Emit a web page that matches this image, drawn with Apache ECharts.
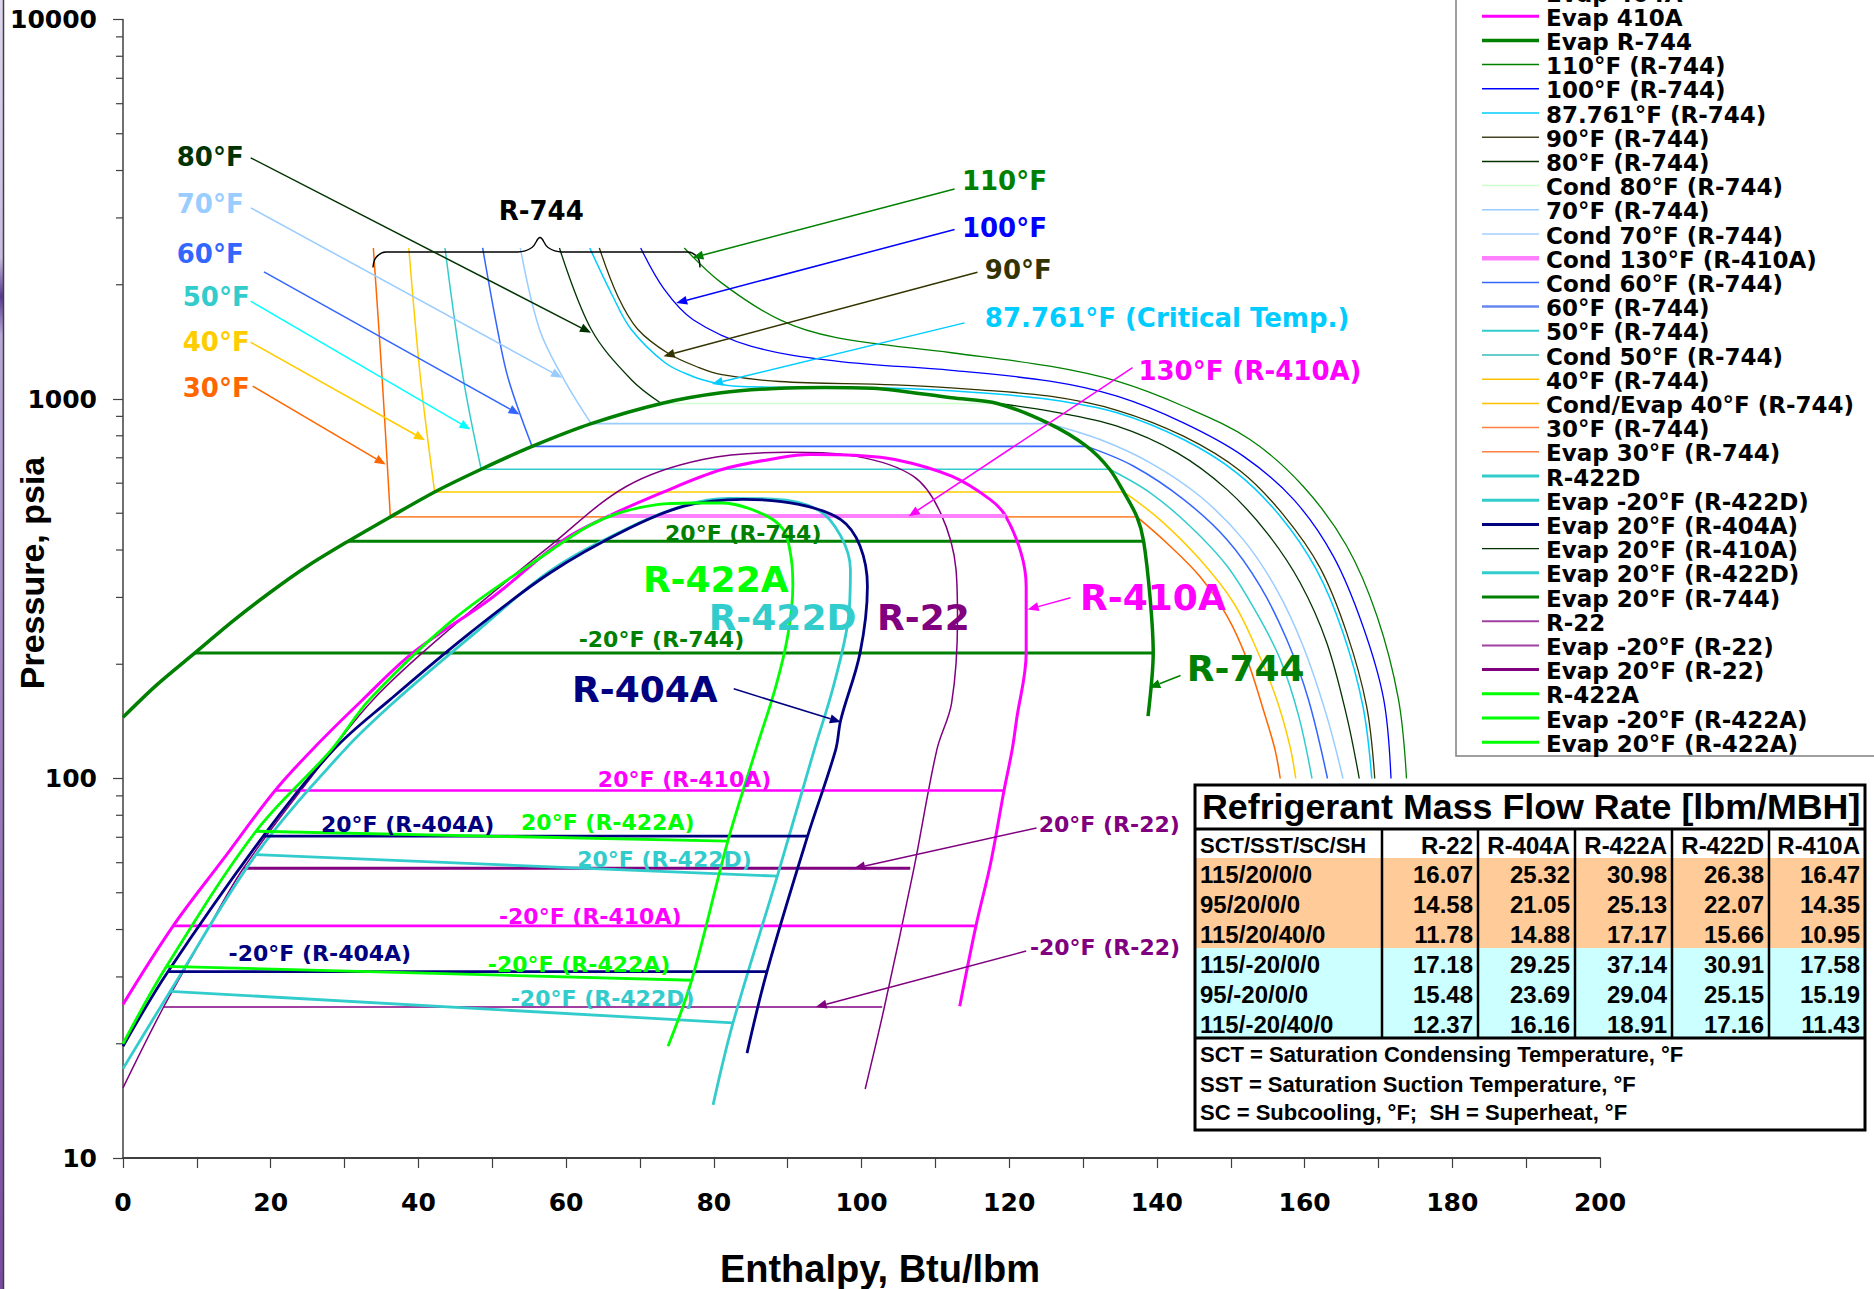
<!DOCTYPE html>
<html><head><meta charset="utf-8">
<script src="https://cdn.jsdelivr.net/npm/echarts@6/dist/echarts.min.js"></script>
<style>html,body{margin:0;padding:0;background:#fff}#c{width:1874px;height:1289px}</style>
</head><body><div id="c"></div>
<script>
// ---------- axis ticks ----------
const xMin = 0, xMax = 200, xStep = 10, xLabelStep = 20;
const yMin = 10, yMax = 10000;
const yMinorTicks = [20,30,40,50,60,70,80,90,200,300,400,500,600,700,800,900,2000,3000,4000,5000,6000,7000,8000,9000];

// ---------- R-744 (CO2) : [enthalpy Btu/lbm, pressure psia] ----------
const r744Dome = [[0,145],[4.5,176],[9.7,214],[15,261],[20,310],[25,363],[30.5,422],[36.2,489],[42.2,569],[48.5,653],[55.4,750],[63.4,861],[72.9,973],[81,1038],[89,1068],[95,1073],[101.5,1068],[104.5,1055],[112.2,1007],[118.4,973],[125.4,861],[130.5,750],[133.6,653],[135.5,569],[137.3,489],[138.2,422],[139.1,296],[139.5,214],[138.8,146]];
const iso110 = [[76,2500],[81,2026],[88.9,1618],[96.6,1451],[112.2,1324],[125.5,1220],[134.6,1114],[143.6,957],[152.6,782],[159.8,589],[165.7,410],[169.8,268],[172.7,162],[173.8,100]];
const iso100 = [[70.1,2500],[73.3,1944],[77.2,1618],[85,1379],[96.6,1259],[112.2,1190],[125.5,1114],[134.6,1017],[143.6,865],[151.7,707],[158.5,544],[163.9,385],[167.9,252],[170.7,162],[171.7,100]];
const iso87761 = [[63.2,2500],[66.3,1868],[68.8,1527],[73.4,1246],[77,1150],[80.3,1100],[83,1080],[90,1074],[104.4,1068],[115,1042],[125.5,997],[134.6,920],[143.6,782],[150.8,639],[156.7,491],[161.6,355],[165.2,242],[167.9,155],[169.1,100]];
const iso90 = [[64.5,2500],[67,1866],[69.7,1527],[73.8,1320],[78,1210],[81.1,1160],[88.9,1112],[104.5,1090],[115,1060],[125.5,1017],[134.6,934],[143.6,798],[151.3,646],[157.1,496],[162.1,359],[165.7,242],[168.4,155],[169.5,100]];
const iso80Liquid = [[59.1,2500],[63.4,1527],[68.8,1126],[72.9,973]];
const iso80Vapor = [[118.4,973],[125.5,929],[134.6,848],[142.7,722],[149.5,577],[154.9,444],[159.4,328],[163,228],[165.7,146],[167.4,100]];
const iso70Liquid = [[53.8,2500],[56.4,1527],[59.7,1126],[63.4,861]];
const iso70Vapor = [[125.4,861],[132.3,782],[139.1,679],[145.8,555],[151.7,426],[156.2,315],[159.8,223],[163,146],[165.2,100]];
const iso60Liquid = [[48.7,2500],[50.7,1527],[52.2,1126],[55.4,750]];
const iso60Vapor = [[130.5,750],[136.8,666],[143.6,544],[149.5,426],[154,321],[157.6,232],[160.5,162],[163.1,100]];
const iso50Liquid = [[43.6,2500],[46.1,1126],[48.5,653]];
const iso50Vapor = [[133.6,653],[139.1,566],[144.5,462],[149.5,363],[153.5,273],[156.7,206],[159.2,146],[161,100]];
const iso40Liquid = [[38.7,2500],[40.3,1126],[42.2,569]];
const iso40Vapor = [[135.5,569],[140.4,481],[145.8,378],[150.4,290],[153.5,219],[156.2,162],[158,122],[158.8,100]];
const iso30Liquid = [[33.9,2500],[35.1,1126],[36.2,489]];
const iso30Vapor = [[137.3,489],[141.3,418],[145.8,341],[149.5,268],[152.2,206],[154.4,152],[156,119],[156.7,100]];
const cond80R744 = [[72.9,973],[118.4,973]];
const cond70R744 = [[63.4,861],[125.4,861]];
const cond60R744 = [[55.4,750],[130.5,750]];
const cond50R744 = [[48.5,653],[133.6,653]];
const condEvap40R744 = [[42.2,569],[135.5,569]];
const evap30R744 = [[36.2,489],[137.3,489]];
const evap20R744 = [[30.5,422],[138.2,422]];
const evapM20R744 = [[9.7,214],[139.5,214]];
const braceR744 = [[33.85,2221],[34.26,2360],[35.61,2440],[53.49,2440],[55.38,2507],[56.47,2665],[57.55,2507],[59.44,2440],[76.46,2440],[77.81,2360],[78.13,2221]];

// ---------- R-410A ----------
const r410aDome = [[0,25.4],[6.8,40.9],[13.5,61],[20.6,93],[26.5,124],[32.5,161.6],[39.2,214],[50,300],[59.4,422],[65.8,492],[72.9,566],[81.1,652],[88.9,700],[93,714],[98,712],[104.5,693],[112.2,626],[117.4,544],[119.5,492],[121.6,393],[122.3,321],[122.3,214],[121,143],[120.4,119],[119.3,93],[117.5,60],[115.5,40.9],[113.3,25.1]];
const cond130R410a = [[65.8,492],[119.5,492]];
const evap20R410a = [[20.6,93],[119.3,93]];
const evapM20R410a = [[6.8,40.9],[115.5,40.9]];

// ---------- R-22 ----------
const r22Dome = [[0,15.3],[5.5,25],[10.8,38],[16.3,58],[25,98],[33.9,161.6],[45,255],[57.8,409.6],[68.2,589],[78.5,693],[90,724],[99.3,706],[107,626],[110.7,501],[112.8,355],[113,262],[112.2,158],[110.2,119],[107.1,58],[103.1,25],[100.5,15.2]];
const evap20R22 = [[16.3,58],[106.6,58]];
const evapM20R22 = [[5.5,25],[102.8,25]];

// ---------- R-404A ----------
const r404aDome = [[0,19.7],[6.1,31],[19,70.5],[28.5,119],[36.2,161.6],[47,242],[57.8,348],[68.2,453],[76,522],[84,544],[91.5,528],[97.2,481],[99.8,410],[100.8,321],[99.8,214],[97.2,143],[96.5,119],[92.7,70.5],[87.2,31],[84.5,18.9]];
const evap20R404a = [[19,70.5],[92.7,70.5]];
const evapM20R404a = [[6.1,31],[87.2,31]];

// ---------- R-422D ----------
const r422dDome = [[0,17.2],[6.4,27.5],[18,63],[30,119],[37.1,161.6],[48,245],[57.8,352],[68.2,455],[76,524],[82,547],[88,545],[94.1,511],[97.2,435],[98.5,355],[98.2,262],[96.2,175],[93.6,119],[88.6,55.3],[82.6,22.7],[79.9,13.8]];
const evap20R422d = [[18,63],[88.6,55.3]];
const evapM20R422d = [[6.4,27.5],[82.6,22.7]];

// ---------- R-422A ----------
const r422aDome = [[0,20],[5.9,32],[18,72.6],[28.2,119],[33.4,161.6],[45,265],[57.8,397],[63,462],[67.2,501],[72.3,527],[77,532],[81.1,532],[86.3,501],[89.4,453],[90.5,378],[90.7,321],[90,237],[88.4,175],[85.7,119],[81.9,68.4],[77,29.4],[73.8,19.7]];
const evap20R422a = [[18,72.6],[81.9,68.4]];
const evapM20R422a = [[5.9,32],[77,29.4]];

// ---------- table ----------
const tableTitle = 'Refrigerant Mass Flow Rate [lbm/MBH]';
const tableHeader = ['SCT/SST/SC/SH','R-22','R-404A','R-422A','R-422D','R-410A'];
const tableConditions = ['115/20/0/0','95/20/0/0','115/20/40/0','115/-20/0/0','95/-20/0/0','115/-20/40/0'];
const flowR22 = [16.07,14.58,11.78,17.18,15.48,12.37];
const flowR404a = [25.32,21.05,14.88,29.25,23.69,16.16];
const flowR422a = [30.98,25.13,17.17,37.14,29.04,18.91];
const flowR422d = [26.38,22.07,15.66,30.91,25.15,17.16];
const flowR410a = [16.47,14.35,10.95,17.58,15.19,11.43];
const tableNotes = ['SCT = Saturation Condensing Temperature, °F','SST = Saturation Suction Temperature, °F','SC = Subcooling, °F;  SH = Superheat, °F'];

// ---------- annotations: [text, h, P, color, fontSize] ----------
const labelSpecs = [
 ['80°F',7.28,4341,'#003300',26],['70°F',7.28,3271,'#99ccff',26],['60°F',7.28,2412,'#3366ff',26],
 ['50°F',8.09,1857,'#33cccc',26],['40°F',8.09,1410,'#ffcc00',26],['30°F',8.09,1070,'#ff6600',26],
 ['110°F',113.6,3750,'#008000',26],['100°F',113.6,2825,'#0000ff',26],['90°F',116.7,2194,'#333300',26],
 ['87.761°F (Critical Temp.)',116.7,1637,'#00ccff',26],['130°F (R-410A)',137.5,1184,'#ff00ff',26],
 ['R-744',50.87,3125,'#000000',26],
 ['R-422A',70.4,334.5,'#00ff00',36],['R-422D',79.3,265,'#33cccc',36],['R-22',102.1,265,'#800080',36],
 ['R-404A',60.8,171.6,'#000080',36],['R-410A',129.6,299.3,'#ff00ff',36],['R-744',144.05,194.5,'#008000',36],
 ['20°F (R-744)',73.4,442,'#008000',22],['-20°F (R-744)',61.7,232.4,'#008000',22],
 ['20°F (R-410A)',64.3,99.4,'#ff00ff',22],['20°F (R-404A)',26.8,75.6,'#000080',22],
 ['20°F (R-422A)',53.9,76.7,'#00ff00',22],['20°F (R-422D)',61.5,61.2,'#33cccc',22],
 ['20°F (R-22)',124,75.6,'#800080',22],['-20°F (R-410A)',50.9,43.4,'#ff00ff',22],
 ['-20°F (R-404A)',14.3,34.6,'#000080',22],['-20°F (R-422A)',49.4,32.4,'#00ff00',22],
 ['-20°F (R-422D)',52.5,26.3,'#33cccc',22],['-20°F (R-22)',122.8,35.8,'#800080',22]
];
// [h1, P1, h2, P2, color]
const arrowSpecs = [
 [17.29,4321,63.37,1494,'#003300'],[17.29,3190,59.45,1137,'#99ccff'],[19.09,2163,53.7,910,'#3366ff'],
 [17.29,1810,47.05,831,'#00ffff'],[17.29,1411,40.9,779,'#ffcc00'],[17.56,1081,35.57,672,'#ff6600'],
 [112.6,3576,77.1,2355,'#008000'],[112.6,2796,74.9,1790,'#0000ff'],[115.7,2159,73.2,1297,'#333300'],
 [113.95,1587,79.74,1095,'#00ccff'],[136.7,1209,106.4,491,'#ff00ff'],
 [143.2,186.8,138.97,173.4,'#008000'],[128.3,299.3,122.5,278.8,'#ff00ff'],[82.7,172.3,97.2,140.8,'#000080'],
 [123.7,74.1,99.0,58,'#800080'],[122.3,35.1,93.8,25,'#800080']
];

// ---------- legend entries: [name, color, width] ----------
const legendEntries = [
 ['Evap 404A','#000080',3],['Evap 410A','#ff00ff',3],['Evap R-744','#008000',3.5],['110°F (R-744)','#008000',1.5],
 ['100°F (R-744)','#0000ff',1.5],['87.761°F (R-744)','#00ccff',1.5],['90°F (R-744)','#444422',1.5],['80°F (R-744)','#003300',1.5],
 ['Cond 80°F (R-744)','#ccffcc',1.5],['70°F (R-744)','#99ccff',1.5],['Cond 70°F (R-744)','#a6d0ff',1.5],['Cond 130°F (R-410A)','#ff80ff',4.5],
 ['Cond 60°F (R-744)','#3366ff',1.5],['60°F (R-744)','#6688ee',2.5],['50°F (R-744)','#33cccc',2],['Cond 50°F (R-744)','#33bbbb',1.5],
 ['40°F (R-744)','#ffc000',1.5],['Cond/Evap 40°F (R-744)','#ffc000',1.5],['30°F (R-744)','#ff8040',1.5],['Evap 30°F (R-744)','#ff8040',1.5],
 ['R-422D','#33cccc',3],['Evap -20°F (R-422D)','#33cccc',3],['Evap 20°F (R-404A)','#000080',3],['Evap 20°F (R-410A)','#003300',1.2],
 ['Evap 20°F (R-422D)','#33cccc',3],['Evap 20°F (R-744)','#008000',3],['R-22','#a040a0',2],['Evap -20°F (R-22)','#a040a0',2],
 ['Evap 20°F (R-22)','#800080',3],['R-422A','#00ff00',3],['Evap -20°F (R-422A)','#00ff00',3],['Evap 20°F (R-422A)','#00ff00',3]
];

// ---------- build ----------
function ln(name, data, color, width, z, smooth) {
  return {name, type:'line', data, symbol:'none', showSymbol:false, silent:true, animation:false,
    smooth: smooth || false, lineStyle:{color, width}, itemStyle:{color}, z: z || 2};
}
const S = 0.35;
const series = [
  ln('110°F (R-744)', iso110, '#008000', 1.3, 2, S),
  ln('100°F (R-744)', iso100, '#0000ff', 1.3, 2, S),
  ln('90°F (R-744)', iso90, '#333300', 1.3, 2, S),
  ln('87.761°F (R-744)', iso87761, '#00ccff', 1.5, 2, S),
  ln('80°F (R-744)', iso80Liquid, '#003300', 1.3, 2, S),
  ln('80°F (R-744)', iso80Vapor, '#003300', 1.3, 2, S),
  ln('70°F (R-744)', iso70Liquid, '#99ccff', 1.5, 2, S),
  ln('70°F (R-744)', iso70Vapor, '#99ccff', 1.5, 2, S),
  ln('60°F (R-744)', iso60Liquid, '#3366ff', 1.5, 2, S),
  ln('60°F (R-744)', iso60Vapor, '#3366ff', 1.5, 2, S),
  ln('50°F (R-744)', iso50Liquid, '#33cccc', 1.5, 2, S),
  ln('50°F (R-744)', iso50Vapor, '#33cccc', 1.5, 2, S),
  ln('40°F (R-744)', iso40Liquid, '#ffcc00', 1.5, 2, S),
  ln('40°F (R-744)', iso40Vapor, '#ffcc00', 1.5, 2, S),
  ln('30°F (R-744)', iso30Liquid, '#ff6600', 1.5, 2, S),
  ln('30°F (R-744)', iso30Vapor, '#ff6600', 1.5, 2, S),
  ln('Cond 80°F (R-744)', cond80R744, '#ccffcc', 1.6, 3),
  ln('Cond 70°F (R-744)', cond70R744, '#99ccff', 1.6, 3),
  ln('Cond 60°F (R-744)', cond60R744, '#3366ff', 1.6, 3),
  ln('Cond 50°F (R-744)', cond50R744, '#33cccc', 1.6, 3),
  ln('Cond/Evap 40°F (R-744)', condEvap40R744, '#ffcc00', 1.6, 3),
  ln('Evap 30°F (R-744)', evap30R744, '#ff8c40', 1.8, 3),
  ln('Evap 20°F (R-744)', evap20R744, '#008000', 3, 3),
  ln('Evap R-744', evapM20R744, '#008000', 3, 3),
  ln('R-744 bracket', braceR744, '#000000', 1.4, 3, 0.4),
  ln('R-22', r22Dome, '#800080', 1.5, 4, S),
  ln('Evap 20°F (R-22)', evap20R22, '#800080', 3, 4),
  ln('Evap -20°F (R-22)', evapM20R22, '#800080', 1.5, 4),
  ln('R-410A', r410aDome, '#ff00ff', 3, 4, S),
  ln('Evap 20°F (R-410A)', evap20R410a, '#ff00ff', 2.6, 4),
  ln('Evap 410A', evapM20R410a, '#ff00ff', 2.6, 4),
  ln('Cond 130°F (R-410A)', cond130R410a, '#ff80ff', 4, 5),
  ln('R-422D', r422dDome, '#33cccc', 2.8, 5, S),
  ln('Evap 20°F (R-422D)', evap20R422d, '#33cccc', 2.8, 5),
  ln('Evap -20°F (R-422D)', evapM20R422d, '#33cccc', 2.8, 5),
  ln('R-404A', r404aDome, '#000080', 2.8, 5, S),
  ln('Evap 20°F (R-404A)', evap20R404a, '#000080', 2.8, 5),
  ln('Evap 404A', evapM20R404a, '#000080', 2.8, 5),
  ln('R-422A', r422aDome, '#00ff00', 2.8, 6, S),
  ln('Evap 20°F (R-422A)', evap20R422a, '#00ff00', 2.8, 6),
  ln('Evap -20°F (R-422A)', evapM20R422a, '#00ff00', 2.8, 6),
  ln('R-744', r744Dome, '#008000', 3.5, 7, 0.3),
  {
    name:'yMinorTicks', type:'custom', silent:true, clip:false, animation:false, z:1,
    data: yMinorTicks.map(v => [xMin, v]),
    renderItem: (params, api) => {
      const p = api.coord([api.value(0), api.value(1)]);
      return {type:'line', shape:{x1:p[0]-7, y1:p[1], x2:p[0], y2:p[1]}, style:{stroke:'#404040', lineWidth:1.2}};
    }
  },
  {
    name:'arrows', type:'custom', silent:true, clip:false, animation:false, z:9,
    data: arrowSpecs.map(a => [a[0], a[1], a[2], a[3]]),
    renderItem: (params, api) => {
      const a = arrowSpecs[params.dataIndex];
      const p1 = api.coord([a[0], a[1]]), p2 = api.coord([a[2], a[3]]);
      const dx = p2[0]-p1[0], dy = p2[1]-p1[1], L = Math.hypot(dx, dy), ux = dx/L, uy = dy/L;
      const hl = 11, hw = 4.5;
      const bx = p2[0]-ux*hl, by = p2[1]-uy*hl;
      return {type:'group', children:[
        {type:'line', shape:{x1:p1[0], y1:p1[1], x2:bx, y2:by}, style:{stroke:a[4], lineWidth:1.5}},
        {type:'polygon', shape:{points:[[p2[0],p2[1]],[bx-uy*hw, by+ux*hw],[bx+uy*hw, by-ux*hw]]}, style:{fill:a[4]}}
      ]};
    }
  },
  {
    name:'labels', type:'custom', silent:true, clip:false, animation:false, z:10,
    data: labelSpecs.map(s => [s[1], s[2]]),
    renderItem: (params, api) => {
      const s = labelSpecs[params.dataIndex];
      const p = api.coord([s[1], s[2]]);
      return {type:'text', x:p[0], y:p[1], style:{text:s[0], fill:s[3], font:'bold ' + s[4] + 'px "DejaVu Sans"', align:'left', verticalAlign:'middle'}};
    }
  }
];

// ---------- graphic: frame strip, y title, legend, table ----------
const graphic = [];
graphic.push({type:'rect', shape:{x:0, y:0, width:3, height:1289}, style:{fill:new echarts.graphic.LinearGradient(0,0,0,1,[{offset:0,color:'#ddd6ec'},{offset:0.2,color:'#c8bce0'},{offset:0.23,color:'#5a3a90'},{offset:0.26,color:'#b8a8d8'},{offset:1,color:'#7a4aa0'}])}, z:50, silent:true});
graphic.push({type:'line', shape:{x1:3.5, y1:0, x2:3.5, y2:1289}, style:{stroke:'#404040', lineWidth:1.5}, z:50, silent:true});
graphic.push({type:'text', x:32, y:573, rotation:Math.PI/2, style:{text:'Pressure, psia', fill:'#000', font:'bold 34px "Liberation Sans", Arial, sans-serif', align:'center', verticalAlign:'middle'}, z:50, silent:true});

// legend
const LG = {x:1456, top:-30, bottom:756, iconX1:1482, iconX2:1539, textX:1546, firstY:-8, pitch:24.2};
graphic.push({type:'rect', shape:{x:LG.x, y:LG.top, width:1874-LG.x+20, height:LG.bottom-LG.top}, style:{fill:'#ffffff', stroke:'#808080', lineWidth:1.5}, z:60, silent:true});
legendEntries.forEach((e, i) => {
  const y = LG.firstY + i*LG.pitch;
  graphic.push({type:'line', shape:{x1:LG.iconX1, y1:y, x2:LG.iconX2, y2:y}, style:{stroke:e[1], lineWidth:e[2]}, z:61, silent:true});
  graphic.push({type:'text', x:LG.textX, y:y+1.5, style:{text:e[0], fill:'#000', font:'bold 23px "DejaVu Sans"', align:'left', verticalAlign:'middle'}, z:61, silent:true});
});

// table
const TB = {x0:1195, x1:1865, y0:785, titleB:829, rowsTop:858, rowH:30, rowsB:1038, y1:1130, cols:[1195,1382,1478,1575,1672,1769,1865]};
const tf = (sz) => 'bold ' + sz + 'px "Liberation Sans", Arial, sans-serif';
graphic.push({type:'rect', shape:{x:TB.x0, y:TB.y0, width:TB.x1-TB.x0, height:TB.y1-TB.y0}, style:{fill:'#ffffff'}, z:70, silent:true});
graphic.push({type:'rect', shape:{x:TB.x0, y:TB.rowsTop, width:TB.x1-TB.x0, height:3*TB.rowH}, style:{fill:'#ffcc99'}, z:71, silent:true});
graphic.push({type:'rect', shape:{x:TB.x0, y:TB.rowsTop+3*TB.rowH, width:TB.x1-TB.x0, height:3*TB.rowH}, style:{fill:'#ccffff'}, z:71, silent:true});
graphic.push({type:'text', x:1202, y:807, style:{text:tableTitle, fill:'#000', font:tf(35.8), align:'left', verticalAlign:'middle'}, z:74, silent:true});
tableHeader.forEach((h, c) => {
  if (c === 0) graphic.push({type:'text', x:1200, y:845, style:{text:h, fill:'#000', font:tf(22), align:'left', verticalAlign:'middle'}, z:74, silent:true});
  else graphic.push({type:'text', x:TB.cols[c+1]-5, y:845, style:{text:h, fill:'#000', font:tf(24), align:'right', verticalAlign:'middle'}, z:74, silent:true});
});
const flowCols = [flowR22, flowR404a, flowR422a, flowR422d, flowR410a];
tableConditions.forEach((cond, r) => {
  const y = TB.rowsTop + 16 + r*TB.rowH;
  graphic.push({type:'text', x:1200, y, style:{text:cond, fill:'#000', font:tf(24), align:'left', verticalAlign:'middle'}, z:74, silent:true});
  flowCols.forEach((col, c) => {
    graphic.push({type:'text', x:TB.cols[c+2]-5, y, style:{text:col[r].toFixed(2), fill:'#000', font:tf(24), align:'right', verticalAlign:'middle'}, z:74, silent:true});
  });
});
[1054, 1084, 1112].forEach((y, i) => {
  graphic.push({type:'text', x:1200, y, style:{text:tableNotes[i], fill:'#000', font:tf(22), align:'left', verticalAlign:'middle'}, z:74, silent:true});
});
for (let c = 1; c < TB.cols.length-1; c++) {
  graphic.push({type:'line', shape:{x1:TB.cols[c], y1:TB.titleB, x2:TB.cols[c], y2:TB.rowsB}, style:{stroke:'#000', lineWidth:2.5}, z:75, silent:true});
}
graphic.push({type:'line', shape:{x1:TB.x0, y1:TB.titleB, x2:TB.x1, y2:TB.titleB}, style:{stroke:'#000', lineWidth:3}, z:75, silent:true});
graphic.push({type:'line', shape:{x1:TB.x0, y1:TB.rowsB, x2:TB.x1, y2:TB.rowsB}, style:{stroke:'#000', lineWidth:3}, z:75, silent:true});
graphic.push({type:'rect', shape:{x:TB.x0, y:TB.y0, width:TB.x1-TB.x0, height:TB.y1-TB.y0}, style:{fill:null, stroke:'#000', lineWidth:3}, z:76, silent:true});

const chart = echarts.init(document.getElementById('c'), null, {renderer:'svg', width:1874, height:1289});
chart.setOption({
  animation:false,
  backgroundColor:'#ffffff',
  grid:{left:123, right:274, top:19.5, bottom:131, containLabel:false, outerBoundsMode:'none'},
  xAxis:{
    type:'value', min:xMin, max:xMax, interval:xStep,
    name:'Enthalpy, Btu/lbm', nameLocation:'middle', nameGap:92, nameMoveOverlap:false,
    nameTextStyle:{fontFamily:'Liberation Sans', fontWeight:'bold', fontSize:38, color:'#000', padding:[0,0,0,37]},
    axisLine:{show:true, onZero:false, lineStyle:{color:'#404040', width:2}},
    axisTick:{show:true, length:10, lineStyle:{color:'#404040', width:1.2}},
    axisLabel:{margin:32, fontFamily:'DejaVu Sans', fontWeight:'bold', fontSize:25, color:'#000',
      formatter:(v) => (v % xLabelStep === 0 ? String(v) : '')},
    splitLine:{show:false}
  },
  yAxis:{
    type:'log', logBase:10, min:yMin, max:yMax,
    axisLine:{show:true, lineStyle:{color:'#404040', width:1.5}},
    axisTick:{show:true, length:10, lineStyle:{color:'#404040', width:1.2}},
    minorTick:{show:false},
    axisLabel:{margin:26, fontFamily:'DejaVu Sans', fontWeight:'bold', fontSize:25, color:'#000',
      formatter:(v) => String(Math.round(v))},
    splitLine:{show:false}
  },
  series,
  graphic
});
</script></body></html>
